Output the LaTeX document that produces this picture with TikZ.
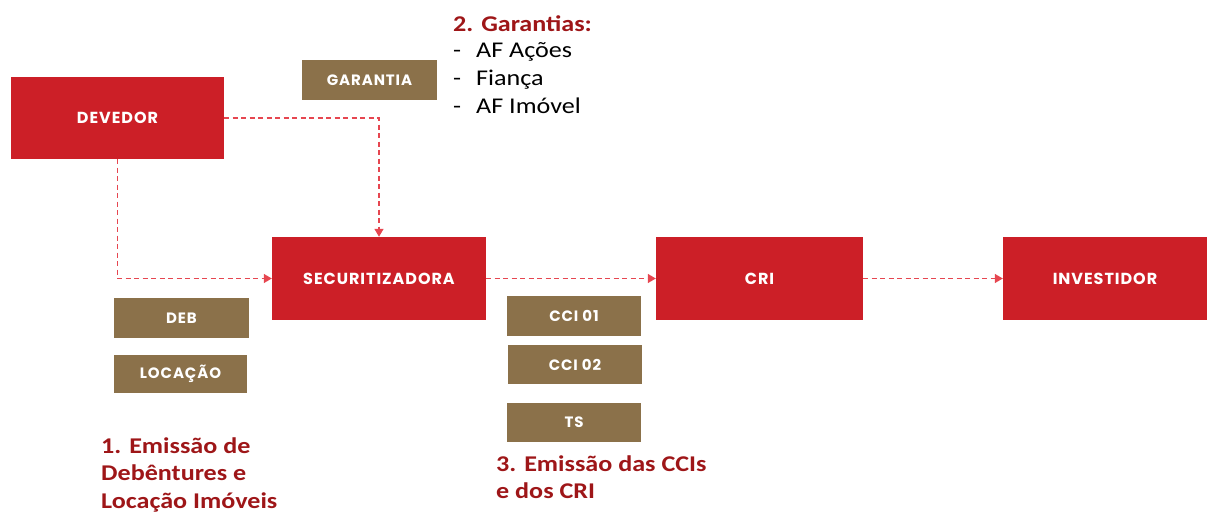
\documentclass[tikz,border=0pt]{standalone}
\usepackage{fontspec}
\setmainfont{Carlito}
\newfontfamily\lblfont{Carlito}[FakeStretch=1.16]
\newfontfamily\boxfont{Poppins}[LetterSpace=6]
\usetikzlibrary{arrows.meta}

\definecolor{boxred}{RGB}{204,31,39}
\definecolor{boxbrown}{RGB}{139,113,74}
\definecolor{textred}{RGB}{158,22,24}
\definecolor{linered}{RGB}{230,70,80}

\tikzset{
  entity/.style={fill=boxred, text=white, minimum width=213pt, minimum height=83pt,
    inner sep=0pt, font=\boxfont\bfseries\fontsize{16}{19}\selectfont},
  tagbox/.style={fill=boxbrown, text=white, minimum width=135pt, minimum height=40pt,
    inner sep=0pt, font=\boxfont\bfseries\fontsize{15}{18}\selectfont},
  flow/.style={linered, line width=1.3pt, dash pattern=on 5pt off 3.5pt,
    -{Triangle[length=8pt,width=9pt]}},
  steplabel/.style={textred, anchor=base west, inner sep=0pt,
    font=\lblfont\bfseries\fontsize{22.5}{27}\selectfont},
  garitem/.style={anchor=base west, inner sep=0pt, font=\lblfont\fontsize{22.5}{27}\selectfont}
}

\begin{document}
\begin{tikzpicture}[x=1pt,y=-1pt]
    \useasboundingbox (0,0) rectangle (1208,513);

    % main chain
    \node[entity, minimum height=82pt] (devedor) at (117.5,118) {DEVEDOR};
    \node[entity, minimum width=214pt] (secur) at (379,278.5) {SECURITIZADORA};
    \node[entity, minimum width=207pt] (cri) at (759.5,278.5) {CRI};
    \node[entity, minimum width=204pt] (investidor) at (1105,278.5) {INVESTIDOR};

    % brown tags
    \node[tagbox] (garantia) at (369.5,80) {GARANTIA};
    \node[tagbox] (deb) at (181.5,318) {DEB};
    \node[tagbox, minimum width=133pt, minimum height=38pt] (locacao) at (180.5,374) {LOCAÇÃO};
    \node[tagbox, minimum width=134pt] (cci1) at (574,316) {CCI 01};
    \node[tagbox, minimum width=134pt, minimum height=39pt] (cci2) at (575,364.5) {CCI 02};
    \node[tagbox, minimum width=134pt, minimum height=39pt] (ts) at (574,422.5) {TS};

    % flows
    \draw[flow] (devedor.east) -| (secur.north);
    \draw[flow] (devedor.south) |- (secur.west);
    \draw[flow] (secur.east) -- (cri.west);
    \draw[flow] (cri.east) -- (investidor.west);

    % step texts
    \node[steplabel] (garantias) at (453,32) {2. Garantias:};
    \foreach \txt [count=\i] in {AF Ações, Fiança, AF Imóvel}
        \node[garitem] (gar\i) at (453,30+28*\i) {\makebox[23pt][l]{-}\txt};
    \foreach \txt [count=\i] in {1. Emissão de, Debêntures e, Locação Imóveis}
        \node[steplabel] (emis\i) at (101,425.5+27.5*\i) {\txt};
    \foreach \txt [count=\i] in {3. Emissão das CCIs, e dos CRI}
        \node[steplabel] (cris\i) at (496,444+27*\i) {\txt};
\end{tikzpicture}
\end{document}
